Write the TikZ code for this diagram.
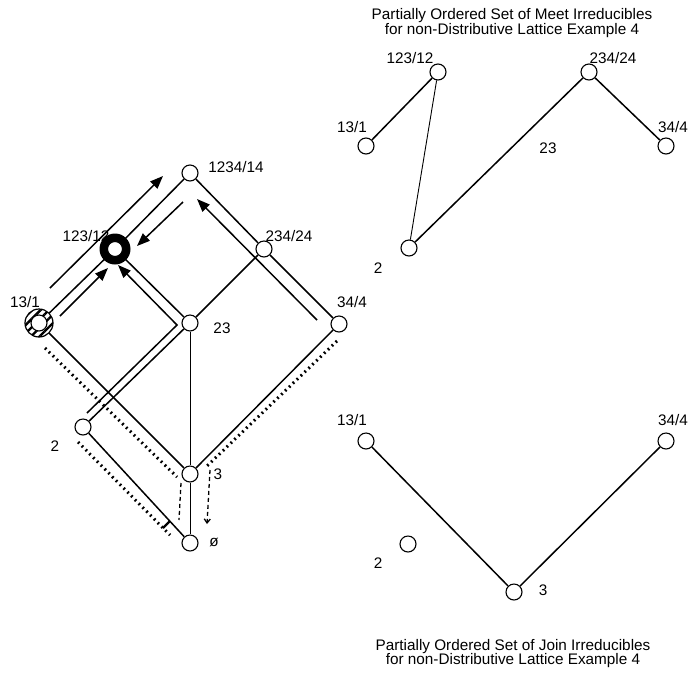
\documentclass[tikz,border=0pt]{standalone}
\usepackage{fontspec}
\setmainfont{Liberation Sans}
\usetikzlibrary{arrows.meta,patterns.meta}

\begin{document}
\begin{tikzpicture}[x=1pt,y=-1pt,
  vtx/.style={circle,draw,fill=white,minimum size=16pt,inner sep=0pt,line width=1.1pt},
  lbl/.style={font=\fontsize{15.3}{15}\selectfont,inner sep=0pt},
  edge/.style={line width=1.5pt},
  thinedge/.style={line width=0.9pt},
  flow/.style={line width=1.5pt,-{Triangle[length=13pt,width=10pt]}},
  trail/.style={line width=3pt,dash pattern=on 1.8pt off 3.6pt},
  trace/.style={line width=1.3pt,dash pattern=on 4pt off 3pt}]
\useasboundingbox (0,0) rectangle (690,673);

% ---------------- lattice ----------------
\node[vtx] (top)  at (190,173) {};
\node[vtx] (a123) at (115,249) {};
\node[vtx] (a13)  at (39,323)  {};
\node[vtx] (a23)  at (190,323) {};
\node[vtx] (a234) at (264,249) {};
\node[vtx] (a34)  at (339,324) {};
\node[vtx] (a2)   at (83,427)  {};
\node[vtx] (a3)   at (190,474) {};
\node[vtx] (a0)   at (190,543) {};

\draw[edge] (top) -- (a123);
\draw[edge] (a123) -- (a13);
\draw[edge] (top) -- (a234);
\draw[edge] (a234) -- (a34);
\draw[edge] (a123) -- (a23);
\draw[edge] (a234) -- (a23);
\draw[edge] (a13) -- (a3);
\draw[edge] (a34) -- (a3);
\draw[thinedge] (a23) -- (a3);
\draw[edge] (a2) -- (a23);
\draw[edge] (a2) -- (a0);
\draw[thinedge] (a3) -- (a0);

% highlighted elements
\fill (a123.center) circle (15.5);
\filldraw[fill=white,line width=1.1pt] (a123.center) circle (7.5);
\fill[white] (a13.center) circle (14);
\fill[pattern={Lines[angle=45,distance=6pt,line width=2.4pt]}] (a13.center) circle (14);
\draw[line width=1.2pt] (a13.center) circle (14);
\filldraw[fill=white,line width=1.1pt] (a13.center) circle (8);

% arrows running beside the edges
\coordinate (f1s) at (50,288);  \coordinate (f1e) at (163,176);
\coordinate (f2s) at (183,202); \coordinate (f2e) at (137,246);
\coordinate (f3s) at (60,316);  \coordinate (f3e) at (108,268);
\coordinate (f4s) at (87,413);  \coordinate (f4m) at (177,325); \coordinate (f4e) at (118,265);
\coordinate (f5s) at (317,320); \coordinate (f5e) at (197,199);
\draw[flow] (f1s) -- (f1e);
\draw[flow] (f2s) -- (f2e);
\draw[flow] (f3s) -- (f3e);
\draw[flow] (f4s) -- (f4m) -- (f4e);
\draw[flow] (f5s) -- (f5e);

% dotted traces below
\coordinate (d1s) at (45,348);  \coordinate (d1e) at (177,477);
\coordinate (v1s) at (181,483); \coordinate (v1e) at (179,520);
\coordinate (d2s) at (78,442);  \coordinate (d2e) at (170,535);
\coordinate (d3s) at (337,341); \coordinate (d3e) at (207,466);
\coordinate (v3s) at (210,470); \coordinate (v3e) at (207,524);
\draw[trail] (d1s) -- (d1e);
\draw[trail] (d2s) -- (d2e);
\draw[trail] (d3s) -- (d3e);
\draw[trace] (v1s) -- (v1e);
\draw[trace,-{Straight Barb[length=4pt,width=6pt]}] (v3s) -- (v3e);
\draw[line width=2.4pt] (163,528) -- (170,521);

\node[lbl] (l-top)  at (236,167) {1234/14};
\node[lbl] (l-a123) at (86,236)  {123/12};
\node[lbl] (l-a13)  at (25,302)  {13/1};
\node[lbl] (l-a23)  at (222,328) {23};
\node[lbl] (l-a234) at (289,236) {234/24};
\node[lbl] (l-a34)  at (352,302) {34/4};
\node[lbl] (l-a2)   at (55,446)  {2};
\node[lbl] (l-a3)   at (218,474) {3};
\node[lbl] (l-a0)   at (214,542) {ø};

% ---------------- meet irreducibles ----------------
\node[lbl,anchor=base] (t1a) at (512,19) {Partially Ordered Set of Meet Irreducibles};
\node[lbl,anchor=base] (t1b) at (512,34) {for non-Distributive Lattice Example 4};

\node[vtx] (m123) at (438,72)  {};
\node[vtx] (m13)  at (366,146) {};
\node[vtx] (m2)   at (409,248) {};
\node[vtx] (m234) at (589,72)  {};
\node[vtx] (m34)  at (666,146) {};
\draw[edge] (m13) -- (m123);
\draw[thinedge] (m123) -- (m2);
\draw[edge] (m2) -- (m234);
\draw[edge] (m234) -- (m34);

\node[lbl] (l-m123) at (410,58)  {123/12};
\node[lbl] (l-m13)  at (352,127) {13/1};
\node[lbl] (l-m234) at (613,58)  {234/24};
\node[lbl] (l-m34)  at (673,127) {34/4};
\node[lbl] (l-m23)  at (548,148) {23};
\node[lbl] (l-m2)   at (378,268) {2};

% ---------------- join irreducibles ----------------
\node[vtx] (j13) at (366,441) {};
\node[vtx] (j34) at (666,441) {};
\node[vtx] (j2)  at (408,544) {};
\node[vtx] (j3)  at (514,592) {};
\draw[edge] (j13) -- (j3);
\draw[edge] (j34) -- (j3);

\node[lbl] (l-j13) at (352,420) {13/1};
\node[lbl] (l-j34) at (673,420) {34/4};
\node[lbl] (l-j2)  at (378,563) {2};
\node[lbl] (l-j3)  at (543,590) {3};

\node[lbl,anchor=base] (t2a) at (513,650) {Partially Ordered Set of Join Irreducibles};
\node[lbl,anchor=base] (t2b) at (513,664) {for non-Distributive Lattice Example 4};
\end{tikzpicture}
\end{document}
